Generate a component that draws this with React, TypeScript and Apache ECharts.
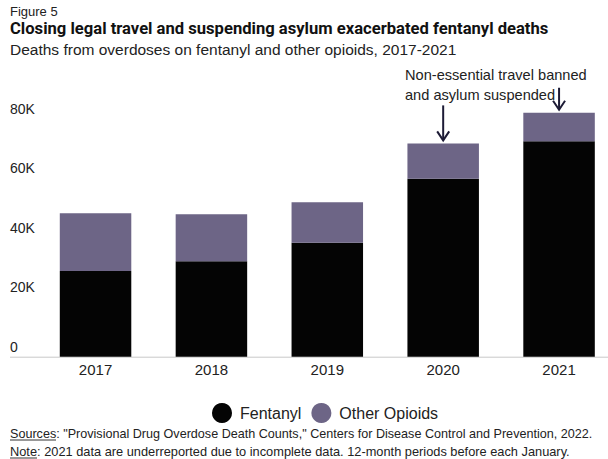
import React, { useEffect, useRef } from "react";
import * as echarts from "echarts";

const years = ["2017", "2018", "2019", "2020", "2021"];
const fentanyl = [28800, 32100, 38300, 59800, 72400];
const otherOpioids = [19400, 15800, 13600, 11900, 9600];
const yTicks = [0, 20000, 40000, 60000, 80000];

const FONT = "'Liberation Sans', Arial, sans-serif";
const TITLE_FONT = "Roboto, 'Liberation Sans', Arial, sans-serif";

export default function App() {
  const ref = useRef<HTMLDivElement>(null);
  useEffect(() => {
    document.body.style.margin = "0";
    const chart = echarts.init(ref.current!, null, { renderer: "svg" });
    const option: any = {
      animation: false,
      backgroundColor: "#ffffff",
      grid: { left: 37.6, right: 0, top: 118.7, bottom: 102.3 },
      xAxis: {
        type: "category",
        data: years,
        axisLine: { show: false },
        axisTick: { show: false },
        axisLabel: { fontSize: 15, color: "#222", margin: 5, fontFamily: FONT },
      },
      yAxis: {
        type: "value",
        min: yTicks[0],
        max: yTicks[yTicks.length - 1],
        interval: 20000,
        splitLine: { show: false },
        axisLine: { show: false },
        axisTick: { show: false },
        axisLabel: {
          fontSize: 14,
          color: "#222",
          align: "left",
          margin: 27.6,
          verticalAlign: "bottom",
          padding: [0, 0, 3, 0],
          fontFamily: FONT,
          formatter: (v: number) => (v === 0 ? "0" : v / 1000 + "K"),
        },
      },
      legend: {
        top: 398,
        left: 207,
        icon: "circle",
        itemWidth: 20,
        itemHeight: 20,
        itemGap: 10,
        textStyle: { fontSize: 16, color: "#222", fontFamily: FONT, padding: [0, 0, 0, 3] },
        data: ["Fentanyl", "Other Opioids"],
      },
      series: [
        {
          name: "Fentanyl",
          type: "bar",
          stack: "total",
          data: fentanyl,
          barCategoryGap: "38.3%",
          clip: false,
          itemStyle: { color: "#040404" },
        },
        {
          name: "Other Opioids",
          type: "bar",
          stack: "total",
          data: otherOpioids,
          clip: false,
          itemStyle: { color: "#6d6586" },
        },
      ],
    };
    chart.setOption(option);

    const p2020 = chart.convertToPixel({ gridIndex: 0 }, [3, fentanyl[3] + otherOpioids[3]]) as number[];
    const p2021 = chart.convertToPixel({ gridIndex: 0 }, [4, fentanyl[4] + otherOpioids[4]]) as number[];
    const base = chart.convertToPixel({ gridIndex: 0 }, [0, 0]) as number[];
    const arrowColor = "#1d1b36";
    const arrow = (x: number, y1: number, y2: number) => [
      { type: "line", shape: { x1: x, y1, x2: x, y2 }, style: { stroke: arrowColor, lineWidth: 2 } },
      {
        type: "polyline",
        shape: { points: [[x - 6, y2 - 9], [x, y2], [x + 6, y2 - 9]] },
        style: { stroke: arrowColor, lineWidth: 2, fill: null },
      },
    ];
    const srcTop = 427;
    const noteTop = 445;
    const graphic: any[] = [
      { type: "text", left: 10, top: 5, style: { text: "Figure 5", fontSize: 13, fill: "#222", fontFamily: FONT } },
      {
        type: "text",
        left: 10,
        top: 20,
        style: {
          text: "Closing legal travel and suspending asylum exacerbated fentanyl deaths",
          fontSize: 16.6,
          fontWeight: "bold",
          fill: "#111",
          fontFamily: TITLE_FONT,
        },
      },
      {
        type: "text",
        left: 10,
        top: 41.5,
        style: {
          text: "Deaths from overdoses on fentanyl and other opioids, 2017-2021",
          fontSize: 15.5,
          fill: "#222",
          fontFamily: FONT,
        },
      },
      {
        type: "text",
        left: 405,
        top: 67,
        style: { text: "Non-essential travel banned", fontSize: 14.6, fill: "#222", fontFamily: FONT },
      },
      {
        type: "text",
        left: 405,
        top: 87,
        style: { text: "and asylum suspended", fontSize: 14.6, fill: "#222", fontFamily: FONT },
      },
      ...arrow(p2020[0], p2020[1] - 38, p2020[1] - 3),
      ...arrow(p2021[0], p2021[1] - 25, p2021[1] - 3),
      { type: "line", shape: { x1: 10, y1: base[1] + 0.5, x2: 608, y2: base[1] + 0.5 }, style: { stroke: "#c8c8c8", lineWidth: 1 } },
      {
        type: "text",
        left: 10,
        top: srcTop,
        style: {
          text: "Sources: \"Provisional Drug Overdose Death Counts,\" Centers for Disease Control and Prevention, 2022.",
          fontSize: 12.6,
          fill: "#222",
          fontFamily: FONT,
        },
      },
      { type: "line", shape: { x1: 10, y1: srcTop + 13, x2: 10 + 46, y2: srcTop + 13 }, style: { stroke: "#333", lineWidth: 1 } },
      {
        type: "text",
        left: 10,
        top: noteTop,
        style: {
          text: "Note: 2021 data are underreported due to incomplete data. 12-month periods before each January.",
          fontSize: 12.8,
          fill: "#222",
          fontFamily: FONT,
        },
      },
      { type: "line", shape: { x1: 10, y1: noteTop + 13, x2: 10 + 27, y2: noteTop + 13 }, style: { stroke: "#333", lineWidth: 1 } },
    ];
    chart.setOption({ graphic });
    return () => chart.dispose();
  }, []);
  return (
    <div style={{ position: "fixed", left: 0, top: 0, width: 608, height: 459, overflow: "hidden", background: "#fff" }}>
      <div ref={ref} style={{ width: 617, height: 459 }} />
    </div>
  );
}
